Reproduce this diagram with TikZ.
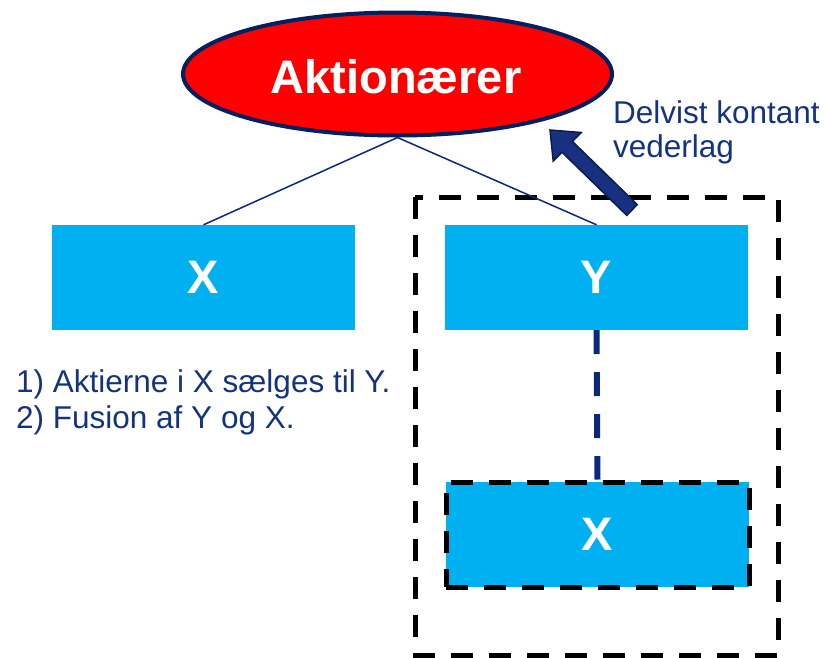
\documentclass[tikz,border=0pt]{standalone}
\usepackage{fontspec}
\setmainfont{Liberation Sans}
\usetikzlibrary{shapes.geometric}
\definecolor{boxcyan}{HTML}{00B0F0}
\definecolor{ellred}{HTML}{FF0000}
\definecolor{ellborder}{HTML}{002060}
\definecolor{navyline}{RGB}{10,40,125}
\definecolor{navytext}{RGB}{20,50,130}
\definecolor{arrowfill}{RGB}{25,48,128}
\definecolor{arrowedge}{RGB}{10,28,80}
\tikzset{
  entity/.style={fill=boxcyan, draw=none, minimum width=303pt, minimum height=105pt, inner sep=0pt,
                 text=white, font=\fontsize{47}{50}\selectfont\bfseries},
  dashedframe/.style={draw=black, line width=5pt, dash pattern=on 22pt off 16pt},
  link/.style={draw=navyline, line width=1.5pt},
  navytxt/.style={text=navytext, inner sep=0pt, font=\fontsize{31.5}{34}\selectfont},
}
\begin{document}
\begin{tikzpicture}[x=1pt,y=-1pt]
\useasboundingbox (0,0) rectangle (825,657);
% outer dashed frame
\draw[dashedframe] (415,197) rectangle (778,655);
% ellipse
\node[ellipse, fill=ellred, draw=ellborder, line width=4pt, minimum width=429pt, minimum height=123pt, inner sep=0pt] (A) at (397.5,74) {};
\node[anchor=base, text=white, inner sep=0pt, font=\fontsize{47}{50}\selectfont\bfseries] (Atext) at (396,93) {Aktionærer};
% boxes
\node[entity] (X) at (203.5,277.5) {X};
\node[entity] (Y) at (596.5,277.5) {Y};
\node[entity, dashedframe] (X2) at (597.5,534.5) {X};
% connectors
\coordinate (top) at (A.south);
\draw[link] (top) -- (X.north);
\draw[link] (top) -- (Y.north);
\draw[navyline, line width=6pt, dash pattern=on 24pt off 18pt] (Y.south) -- (X2.north);
% big arrow
\draw[fill=arrowfill, draw=arrowedge, line width=1.5pt, line join=miter]
  (637.2,204.6) -- (572.4,141.4) -- (581.2,132.5) -- (550,130) -- (553.2,161.1) -- (562.0,152.2) -- (626.8,215.4) -- cycle;
% texts
\node[navytxt, anchor=base west] (pay1) at (613,123) {Delvist kontant};
\node[navytxt, anchor=base west] (pay2) at (613,157) {vederlag};
\node[navytxt, anchor=base west] (step1) at (16,392) {1) Aktierne i X sælges til Y.};
\node[navytxt, anchor=base west] (step2) at (16,428) {2) Fusion af Y og X.};
\end{tikzpicture}
\end{document}
